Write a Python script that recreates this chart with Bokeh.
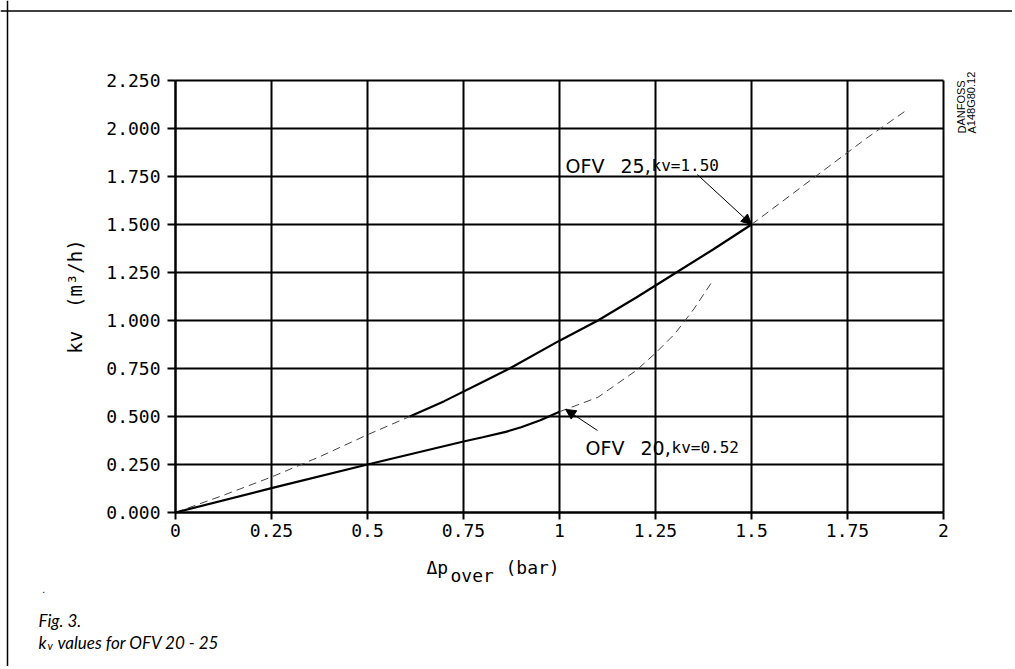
from bokeh.plotting import figure
from bokeh.models import Label, Arrow, NormalHead, FixedTicker, Range1d, Span
from bokeh.embed import file_html
from bokeh.resources import INLINE

# ---- data ----
x_ticks = [0, 0.25, 0.5, 0.75, 1.0, 1.25, 1.5, 1.75, 2.0]
x_tick_labels = ["0", "0.25", "0.5", "0.75", "1", "1.25", "1.5", "1.75", "2"]
y_ticks = [0, 0.25, 0.5, 0.75, 1.0, 1.25, 1.5, 1.75, 2.0, 2.25]
y_tick_labels = ["0.000", "0.250", "0.500", "0.750", "1.000", "1.250",
                 "1.500", "1.750", "2.000", "2.250"]

# OFV 25 (kv = 1.50)
ofv25_low_dash_x = [0.0, 0.125, 0.25, 0.375, 0.5, 0.61]
ofv25_low_dash_y = [0.0, 0.09, 0.185, 0.29, 0.405, 0.5]
ofv25_solid_x = [0.61, 0.7, 0.8, 0.87, 1.0, 1.1, 1.2, 1.3, 1.4, 1.5]
ofv25_solid_y = [0.5, 0.58, 0.68, 0.75, 0.895, 1.0, 1.12, 1.245, 1.37, 1.5]
ofv25_high_dash_x = [1.5, 1.6, 1.7, 1.8, 1.9]
ofv25_high_dash_y = [1.5, 1.65, 1.8, 1.95, 2.09]

# OFV 20 (kv = 0.52)
ofv20_solid_x = [0.0, 0.25, 0.5, 0.75, 0.8, 0.86, 0.9, 0.95, 1.0]
ofv20_solid_y = [0.0, 0.127, 0.25, 0.37, 0.392, 0.42, 0.444, 0.48, 0.525]
ofv20_dash_x = [1.0, 1.1, 1.2, 1.25, 1.3, 1.35, 1.4]
ofv20_dash_y = [0.525, 0.6, 0.74, 0.83, 0.93, 1.06, 1.21]

# ---- layout (pixels) ----
W, H = 1012, 666
X0_PX, Y0_PX = 175, 512          # where data (0, 0) sits on the page
PX_PER_X, PX_PER_Y = 384, 192
CAD = "DejaVu Sans Mono"

p = figure(width=W, height=H,
           x_range=Range1d(-X0_PX / PX_PER_X, (W - X0_PX) / PX_PER_X),
           y_range=Range1d((Y0_PX - H) / PX_PER_Y, Y0_PX / PX_PER_Y),
           output_backend="svg", toolbar_location=None, min_border=0)
p.background_fill_color = "white"
p.border_fill_color = "white"
p.outline_line_color = None
p.xgrid.visible = False
p.ygrid.visible = False

for ax, ticks, labels in ((p.xaxis[0], x_ticks, x_tick_labels), (p.yaxis[0], y_ticks, y_tick_labels)):
    ax.fixed_location = 0
    ax.bounds = (ticks[0], ticks[-1])
    ax.ticker = FixedTicker(ticks=ticks)
    ax.major_label_overrides = dict(zip(ticks, labels))
    ax.axis_line_color = "black"
    ax.axis_line_width = 2
    ax.major_tick_line_color = "black"
    ax.major_tick_line_width = 2
    ax.major_tick_in = 0
    ax.minor_tick_out = 0
    ax.minor_tick_in = 0
    ax.major_label_text_font = CAD
    ax.major_label_text_font_size = "18px"
    ax.major_label_text_color = "black"

p.xaxis.major_tick_out = 7
p.xaxis.major_label_standoff = 4
p.yaxis.major_tick_out = 8
p.yaxis.major_label_standoff = 7
p.yaxis.axis_label = "kv\u00a0\u00a0(m³/h)"
p.yaxis.axis_label_text_font = CAD
p.yaxis.axis_label_text_font_size = "19px"
p.yaxis.axis_label_text_font_style = "normal"
p.yaxis.axis_label_text_color = "black"
p.yaxis.axis_label_standoff = 17

# grid (from the tick arrays)
p.segment(x0=x_ticks, y0=[y_ticks[0]] * len(x_ticks), x1=x_ticks, y1=[y_ticks[-1]] * len(x_ticks),
          line_color="black", line_width=2)
p.segment(x0=[x_ticks[0]] * len(y_ticks), y0=y_ticks, x1=[x_ticks[-1]] * len(y_ticks), y1=y_ticks,
          line_color="black", line_width=2)

# page frame (top and left edges of the drawing sheet)
p.add_layout(Span(location=(Y0_PX - 10.5) / PX_PER_Y, dimension="width", line_color="black", line_width=1.5))
p.add_layout(Span(location=(7 - X0_PX) / PX_PER_X, dimension="height", line_color="black", line_width=1.5))

# curves
p.line(ofv25_low_dash_x, ofv25_low_dash_y, line_color="#444444", line_width=1, line_dash="8 5")
p.line(ofv25_high_dash_x, ofv25_high_dash_y, line_color="#444444", line_width=1, line_dash="8 5")
p.line(ofv20_dash_x, ofv20_dash_y, line_color="#444444", line_width=1, line_dash="8 5")
p.line(ofv25_solid_x, ofv25_solid_y, line_color="black", line_width=2.2)
p.line(ofv20_solid_x, ofv20_solid_y, line_color="black", line_width=2.2)

# annotation arrows
p.add_layout(Arrow(end=NormalHead(size=10, fill_color="black", line_color="black", line_width=1),
                   x_start=1.359, y_start=1.76, x_end=1.5, y_end=1.5,
                   line_color="black", line_width=1))
p.add_layout(Arrow(end=NormalHead(size=10, fill_color="black", line_color="black", line_width=1),
                   x_start=1.099, y_start=0.427, x_end=1.016, y_end=0.537,
                   line_color="black", line_width=1))


def lab(text, sx, sy, size, font=CAD, style="normal", angle=0.0, align="left"):
    # sx, sy: page pixel position of the text anchor (baseline)
    p.add_layout(Label(x=sx, y=H - sy, x_units="screen", y_units="screen",
                       text=text, text_font=font, text_font_size=size, text_font_style=style,
                       text_align=align, text_baseline="alphabetic", angle=angle,
                       text_color="black"))


# curve labels
lab("OFV", 565, 165, "19px", font="DejaVu Sans")
lab("25,", 620, 165, "19px", font="DejaVu Sans")
lab("kv=1.50", 651, 165, "16px")
lab("OFV", 585, 447, "19px", font="DejaVu Sans")
lab("20,", 640, 447, "19px", font="DejaVu Sans")
lab("kv=0.52", 671, 447, "16px")

# x axis label
lab("Δp", 426, 567, "18px")
lab("over", 450, 575, "18px")
lab("(bar)", 505, 567, "18px")

# drawing reference
lab("DANFOSS", 961, 133, "11px", font="Liberation Sans", angle=1.5708)
lab("A148G80.12", 971, 133, "11px", font="Liberation Sans", angle=1.5708)

# caption
lab(".", 42, 589, "10px", font="Lato")
lab("Fig. 3.", 38, 620, "17px", font="Lato", style="italic")
lab("k", 38, 642, "17px", font="Lato", style="italic")
lab("v", 47, 645, "11px", font="Lato", style="italic")
lab("values for OFV 20 - 25", 57, 642, "17px", font="Lato", style="italic")

open("out.html", "w").write(file_html(p, INLINE))
